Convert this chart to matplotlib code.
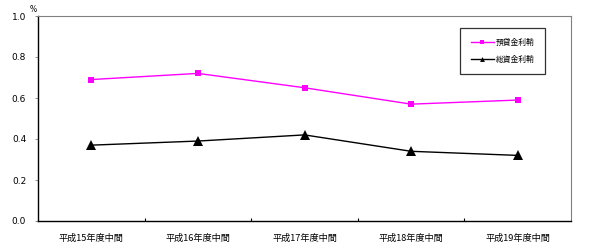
import matplotlib
matplotlib.use("Agg")
import matplotlib.pyplot as plt

plt.rcParams['font.family'] = ['Noto Sans CJK JP', 'DejaVu Sans']

# -------------------------
# Data
# -------------------------
periods = ["平成15年度中間", "平成16年度中間", "平成17年度中間", "平成18年度中間", "平成19年度中間"]
yokashi = [0.69, 0.72, 0.65, 0.57, 0.59]   # 預貸金利鞘
soshikin = [0.37, 0.39, 0.42, 0.34, 0.32]  # 総資金利鞘
yticks = [0.0, 0.2, 0.4, 0.6, 0.8, 1.0]

fig = plt.figure(figsize=(5.9, 2.48), dpi=100)
# plot area: x 38..571, y 16..221 (pixels)
ax = fig.add_axes([38 / 590, 1 - 221 / 248, (571 - 38) / 590, (221 - 16) / 248])

x = list(range(len(periods)))
ax.plot(x, yokashi, color="#ff00ff", lw=1.0, marker="s", markersize=3.8,
        markeredgewidth=0, label="預貸金利鞘")
ax.plot(x, soshikin, color="#000000", lw=1.0, marker="^", markersize=7,
        markeredgewidth=0, label="総資金利鞘")

ax.set_xlim(-0.5, len(periods) - 0.5)
ax.set_ylim(0, 1.0)

# category axis: labels under each point, ticks on the boundaries
ax.set_xticks(x)
ax.set_xticklabels(periods, fontsize=6.6)
ax.set_xticks([i + 0.5 for i in x[:-1]], minor=True)
ax.tick_params(axis="x", which="major", length=0, pad=9)
ax.tick_params(axis="x", which="minor", direction="in", length=2, width=0.8)

ax.set_yticks(yticks)
ax.set_yticklabels([f"{v:.1f}" for v in yticks], fontsize=6.5, family="DejaVu Sans")
ax.tick_params(axis="y", direction="out", length=2.5, width=0.6, color="#808080", pad=6)

for side in ["top", "right"]:
    ax.spines[side].set_color("#808080")
    ax.spines[side].set_linewidth(0.8)
for side in ["left", "bottom"]:
    ax.spines[side].set_color("#000000")
    ax.spines[side].set_linewidth(1.0)

# unit label just above-left of the axis top
ax.text(-8 / 533, 1 + 2 / 205, "%", transform=ax.transAxes, fontsize=5.5,
        family="DejaVu Sans", ha="left", va="bottom")

leg = ax.legend(loc="upper left", bbox_to_anchor=((460 - 38) / 533, 1 - (28 - 16) / 205),
                prop={"size": 5.6}, frameon=True, fancybox=False, borderpad=1.35,
                handlelength=3.0, handletextpad=0.3, labelspacing=1.2,
                borderaxespad=0)
leg.get_frame().set_edgecolor("#000000")
leg.get_frame().set_linewidth(0.9)
handles = leg.legend_handles
handles[0].set_markersize(3)
handles[1].set_markersize(3.5)

fig.savefig("out.png", dpi=100)
